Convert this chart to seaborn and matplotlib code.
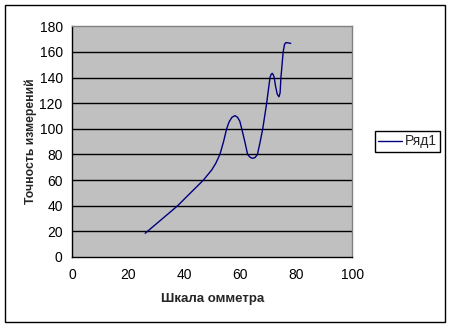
import matplotlib
matplotlib.use("Agg")
import matplotlib.pyplot as plt
import seaborn as sns
import pandas as pd
from matplotlib.patches import Rectangle

# Data
ohm_scale = [26, 30, 34, 37.6, 42, 46.8, 49.8, 51.2, 52.7, 54, 55.1, 56, 57, 58.1,
             59, 59.8, 60.5, 61.6, 62.6, 63.5, 64.3, 65.2, 66.1, 67, 68, 69.4,
             70.6, 71.0, 71.4, 71.8, 72.1, 72.6, 73.2, 73.8, 74.2, 74.5, 75.3,
             75.8, 76.3, 77.2, 78]
accuracy = [18.5, 25.9, 33.3, 40, 49.6, 60, 68, 73, 80, 90, 100, 105.5, 109, 110.3,
            109, 106, 100, 90, 80, 77.8, 77, 77.5, 80, 89, 100, 120,
            140, 142.5, 143.3, 142, 140, 133, 127, 125, 128, 140, 160,
            166, 167.3, 167, 166.7]
series_name = "Ряд1"
x_ticks = [0, 20, 40, 60, 80, 100]
y_ticks = [0, 20, 40, 60, 80, 100, 120, 140, 160, 180]

df = pd.DataFrame({"x": ohm_scale, "y": accuracy})

sns.set_theme(style="white")
plt.rcParams['font.family'] = ['Liberation Sans', 'DejaVu Sans']

W, H = 452, 328
fig = plt.figure(figsize=(W / 100, H / 100), dpi=100)
fig.patch.set_facecolor("white")
ax = fig.add_axes([72.4 / W, 1 - 257 / H, (352.3 - 72.4) / W, (257 - 26.3) / H])
ax.set_facecolor("#C0C0C0")

sns.lineplot(data=df, x="x", y="y", ax=ax, color="#000080", linewidth=1.0,
             estimator=None, sort=False, label=series_name, legend=False)

ax.set_xlim(0, 100)
ax.set_ylim(0, 180)
ax.set_xticks(x_ticks)
ax.set_yticks(y_ticks)
ax.set_xticklabels([str(t) for t in x_ticks], fontsize=10, color="black")
ax.set_yticklabels([str(t) for t in y_ticks], fontsize=10, color="black")
ax.tick_params(axis="both", direction="out", length=4, width=1, color="black", pad=3)
ax.tick_params(axis="x", pad=4)

for y in y_ticks[1:-1]:
    ax.axhline(y, color="black", linewidth=1, zorder=1)

for s in ["left", "bottom"]:
    ax.spines[s].set_color("black")
    ax.spines[s].set_linewidth(1)
for s in ["top", "right"]:
    ax.spines[s].set_color("#808080")
    ax.spines[s].set_linewidth(1)

ax.set_xlabel("Шкала омметра", fontsize=9.5, fontweight="bold", labelpad=8)
ax.set_ylabel("Точность измерений", fontsize=8.8, fontweight="bold", labelpad=2)

handles, labels = ax.get_legend_handles_labels()
leg = fig.legend(handles, labels, loc="center left",
                 bbox_to_anchor=(375 / W, 1 - 141.5 / H),
                 fontsize=10, frameon=True, fancybox=False, edgecolor="black",
                 framealpha=1, borderpad=0.25, handlelength=1.7, handletextpad=0.2,
                 borderaxespad=0)
leg.get_frame().set_linewidth(1)

fig.patches.append(Rectangle((5 / W, 1 - 322 / H), 440 / W, 317 / H,
                             transform=fig.transFigure, fill=False,
                             edgecolor="black", linewidth=1))

fig.savefig("out.png", dpi=100)
